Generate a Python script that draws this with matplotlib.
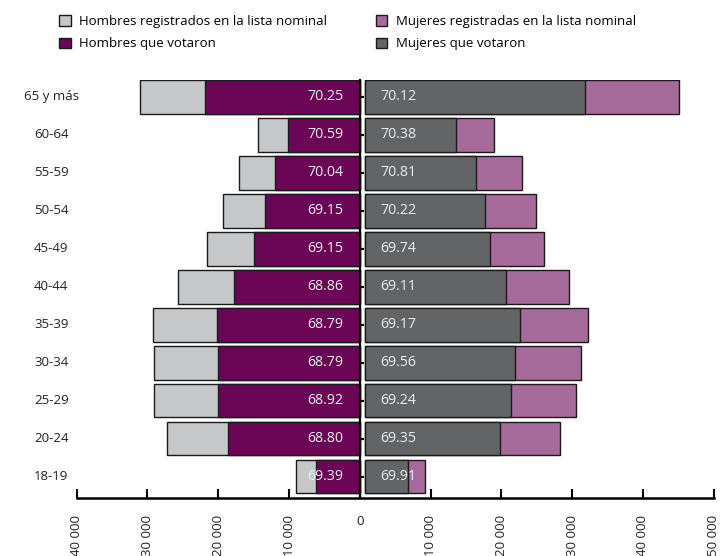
import matplotlib.pyplot as plt
from matplotlib.patches import Patch
from matplotlib.transforms import blended_transform_factory

plt.rcParams['font.family'] = ['Open Sans', 'DejaVu Sans']

edades = ['18-19', '20-24', '25-29', '30-34', '35-39', '40-44',
          '45-49', '50-54', '55-59', '60-64', '65 y más']
hombres_registrados = [8950, 27190, 29080, 29080, 29150, 25710, 21540, 19280, 17020, 14350, 31100]
hombres_votaron = [6140, 18690, 20060, 20060, 20110, 17740, 14940, 13330, 11960, 10130, 21900]
mujeres_registradas = [9220, 28330, 30540, 31240, 32260, 29590, 26020, 24830, 22980, 18940, 45040]
mujeres_votaron = [6750, 19830, 21380, 21980, 22570, 20660, 18400, 17640, 16440, 13530, 31780]
pct_hombres = ['69.39', '68.80', '68.92', '68.79', '68.79', '68.86',
               '69.15', '69.15', '70.04', '70.59', '70.25']
pct_mujeres = ['69.91', '69.35', '69.24', '69.56', '69.17', '69.11',
               '69.74', '70.22', '70.81', '70.38', '70.12']
ticks_x = [-40000, -30000, -20000, -10000, 0, 10000, 20000, 30000, 40000, 50000]
ticks_txt = ['40 000', '30 000', '20 000', '10 000', '0',
             '10 000', '20 000', '30 000', '40 000', '50 000']

c_hreg = '#c6c7c9'
c_hvot = '#6b0656'
c_mreg = '#a66b9b'
c_mvot = '#636466'
borde = '#1a1a1a'
gap = 780
h = 0.89
fs = 9.5

fig = plt.figure(figsize=(7.23, 5.56), dpi=100)
ax = fig.add_axes([0.1061, 0.1038, 0.9871 - 0.1061, 0.856 - 0.1038])

y = list(range(len(edades)))

# hombres a la izquierda
ax.barh(y, [-v for v in hombres_registrados], height=h, color=c_hreg, edgecolor=borde, linewidth=1)
ax.barh(y, [-v for v in hombres_votaron], height=h, color=c_hvot, edgecolor=borde, linewidth=1)

# mujeres a la derecha
ax.barh(y, [v - gap for v in mujeres_registradas], left=gap, height=h,
        color=c_mreg, edgecolor=borde, linewidth=1)
ax.barh(y, [v - gap for v in mujeres_votaron], left=gap, height=h,
        color=c_mvot, edgecolor=borde, linewidth=1)

for i in y:
    ax.text(-2300, i, pct_hombres[i], color='#eeeeee', fontsize=10.2,
            ha='right', va='center')
    ax.text(2900, i, pct_mujeres[i], color='#eeeeee', fontsize=10.2,
            ha='left', va='center')

ax.set_xlim(-40000, 50000)
ax.set_ylim(-0.574, 10.445)

ax.spines['top'].set_visible(False)
ax.spines['right'].set_visible(False)
ax.spines['left'].set_position(('data', 0))
ax.spines['left'].set_linewidth(1.6)
ax.spines['bottom'].set_linewidth(1.8)

ax.set_yticks(y)
ax.tick_params(axis='y', direction='in', length=3, width=1.6, labelleft=False)
ax.set_xticks(ticks_x)
ax.set_xticklabels(ticks_txt, fontsize=fs, color='#222222')
ax.tick_params(axis='x', direction='in', length=6.5, width=1.5, pad=12)
for lab in ax.get_xticklabels():
    if lab.get_text() != '0':
        lab.set_rotation(90)

trans = blended_transform_factory(ax.transAxes, ax.transData)
for i, e in enumerate(edades):
    ax.text(-0.04, i, e, transform=trans, ha='center', va='center', fontsize=fs, color='#222222')

estilo_leg = dict(loc='upper left', frameon=False, fontsize=fs, handlelength=0.86,
                  handleheight=0.86, handletextpad=0.62, labelspacing=0.72,
                  borderpad=0, borderaxespad=0)
leg1 = fig.legend(handles=[Patch(facecolor=c_hreg, edgecolor=borde, linewidth=1),
                           Patch(facecolor=c_hvot, edgecolor=borde, linewidth=1)],
                  labels=['Hombres registrados en la lista nominal', 'Hombres que votaron'],
                  bbox_to_anchor=(59.3 / 723, 1 - 15 / 556), **estilo_leg)
leg2 = fig.legend(handles=[Patch(facecolor=c_mreg, edgecolor=borde, linewidth=1),
                           Patch(facecolor=c_mvot, edgecolor=borde, linewidth=1)],
                  labels=['Mujeres registradas en la lista nominal', 'Mujeres que votaron'],
                  bbox_to_anchor=(376 / 723, 1 - 15 / 556), **estilo_leg)

fig.savefig('out.png', dpi=100)
